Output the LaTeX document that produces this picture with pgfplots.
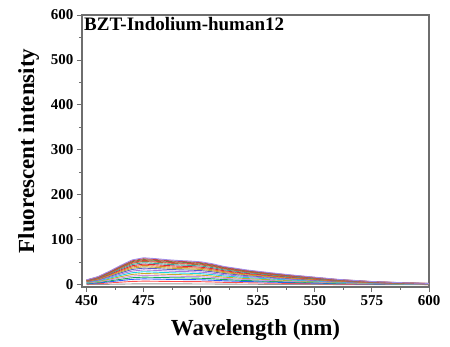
\documentclass[border=0pt]{standalone}
\usepackage{pgfplots}
\usepackage{pgfplotstable}
\pgfplotsset{compat=1.18}
\usepackage{fontspec}
\setmainfont{Liberation Serif}
\pgfplotstableread{
x c1 c2 c3 c4 c5 c6 c7 c8 c9 c10 c11 c12 c13 c14 c15 c16 c17 c18
450 0.4 1.4 2.3 3.1 3.8 4.5 5.2 5.9 6.7 7.2 7.7 8.3 8.8 9.4 9.7 10.1 10.4 10.8
455 0.6 2.4 3.9 5.1 6.3 7.5 8.7 9.9 11.1 12.0 12.9 13.8 14.7 15.6 16.2 16.8 17.4 18.0
460 1.0 4.0 6.5 8.5 10.5 12.5 14.5 16.5 18.5 20.0 21.5 23.0 24.5 26.0 27.0 28.0 29.0 30.0
465 1.4 5.8 9.4 12.2 15.1 18.0 20.9 23.8 26.6 28.8 31.0 33.1 35.3 37.4 38.9 40.3 41.8 43.2
470 1.8 7.4 12.0 15.6 19.3 23.0 26.7 30.4 34.0 36.8 39.6 42.3 45.1 47.8 49.7 51.5 53.4 55.2
475 2.0 8.0 13.0 17.0 21.0 25.0 29.0 33.0 37.0 40.0 43.0 46.0 49.0 52.0 54.0 56.0 58.0 60.0
480 1.9 7.8 12.6 16.5 20.4 24.3 28.1 32.0 35.9 38.8 41.7 44.6 47.5 50.4 52.4 54.3 56.3 58.2
485 1.9 7.4 12.1 15.8 19.5 23.3 27.0 30.7 34.4 37.2 40.0 42.8 45.6 48.4 50.2 52.1 53.9 55.8
490 1.8 7.2 11.7 15.3 18.9 22.5 26.1 29.7 33.3 36.0 38.7 41.4 44.1 46.8 48.6 50.4 52.2 54.0
495 1.8 7.0 11.4 15.0 18.5 22.0 25.5 29.0 32.6 35.2 37.8 40.5 43.1 45.8 47.5 49.3 51.0 52.8
500 1.7 6.8 11.1 14.5 17.9 21.3 24.7 28.1 31.5 34.0 36.6 39.1 41.7 44.2 45.9 47.6 49.3 51.0
505 1.6 6.2 10.1 13.3 16.4 19.5 22.6 25.7 28.9 31.2 33.5 35.9 38.2 40.6 42.1 43.7 45.2 46.8
510 1.4 5.4 8.8 11.6 14.3 17.0 19.7 22.4 25.2 27.2 29.2 31.3 33.3 35.4 36.7 38.1 39.4 40.8
520 1.1 4.4 7.2 9.4 11.6 13.8 16.0 18.2 20.4 22.0 23.7 25.3 27.0 28.6 29.7 30.8 31.9 33.0
530 0.9 3.6 5.9 7.7 9.5 11.3 13.1 14.9 16.7 18.0 19.4 20.7 22.1 23.4 24.3 25.2 26.1 27.0
540 0.7 2.9 4.7 6.1 7.6 9.0 10.4 11.9 13.3 14.4 15.5 16.6 17.6 18.7 19.4 20.2 20.9 21.6
550 0.6 2.2 3.6 4.8 5.9 7.0 8.1 9.2 10.4 11.2 12.0 12.9 13.7 14.6 15.1 15.7 16.2 16.8
560 0.4 1.6 2.6 3.4 4.2 5.0 5.8 6.6 7.4 8.0 8.6 9.2 9.8 10.4 10.8 11.2 11.6 12.0
575 0.2 1.0 1.6 2.0 2.5 3.0 3.5 4.0 4.4 4.8 5.2 5.5 5.9 6.2 6.5 6.7 7.0 7.2
590 0.1 0.6 0.9 1.2 1.5 1.8 2.0 2.3 2.6 2.8 3.0 3.2 3.4 3.6 3.8 3.9 4.1 4.2
600 0.1 0.4 0.7 0.9 1.1 1.3 1.5 1.7 1.9 2.0 2.2 2.3 2.5 2.6 2.7 2.8 2.9 3.0
}\spectra
\definecolor{axgray}{RGB}{110,110,110}
\definecolor{k1}{RGB}{150,150,150}
\definecolor{k2}{RGB}{255,80,80}
\definecolor{k3}{RGB}{40,90,255}
\definecolor{k4}{RGB}{20,170,90}
\definecolor{k5}{RGB}{200,140,230}
\definecolor{k6}{RGB}{200,170,40}
\definecolor{k7}{RGB}{30,210,220}
\definecolor{k8}{RGB}{170,120,220}
\definecolor{k9}{RGB}{90,90,200}
\definecolor{k10}{RGB}{180,170,60}
\definecolor{k11}{RGB}{230,120,40}
\definecolor{k12}{RGB}{220,40,60}
\definecolor{k13}{RGB}{60,160,160}
\definecolor{k14}{RGB}{160,120,60}
\definecolor{k15}{RGB}{230,60,60}
\definecolor{k16}{RGB}{110,130,60}
\definecolor{k17}{RGB}{200,60,60}
\definecolor{k18}{RGB}{160,140,230}
\begin{document}
\begin{tikzpicture}
\path[use as bounding box] (-82pt,-60pt) rectangle (368pt,287pt);
\begin{axis}[
  scale only axis,
  width=347pt, height=272pt,
  xmin=448, xmax=600, ymin=-5, ymax=600,
  xtick={450,475,...,600}, ytick={0,100,...,600},
  minor x tick num=1, minor y tick num=1,
  tick align=outside,
  major tick length=5pt, minor tick length=3pt,
  axis line style={axgray, line width=1.2pt},
  every tick/.style={axgray, line width=0.9pt},
  xtick pos=bottom, ytick pos=left,
  tick label style={font=\fontsize{15}{17}\selectfont\bfseries},
  /pgf/number format/assume math mode=true,
  xlabel={\fontsize{23}{26}\selectfont\bfseries Wavelength (nm)},
  ylabel={\fontsize{23}{26}\selectfont\bfseries Fluorescent intensity},
  xlabel style={yshift=-7pt},
  ylabel style={yshift=5pt},
  clip=true,
]
\foreach \i in {1,...,18}{
  \edef\tmp{\noexpand\addplot[color=k\i, line width=0.9pt] table[x=x,y=c\i] {\noexpand\spectra};}
  \tmp
}
\node[anchor=north west, font=\fontsize{19}{22}\selectfont\bfseries, inner sep=2pt] at (rel axis cs:0,1) {BZT-Indolium-human12};
\end{axis}
\end{tikzpicture}
\end{document}
